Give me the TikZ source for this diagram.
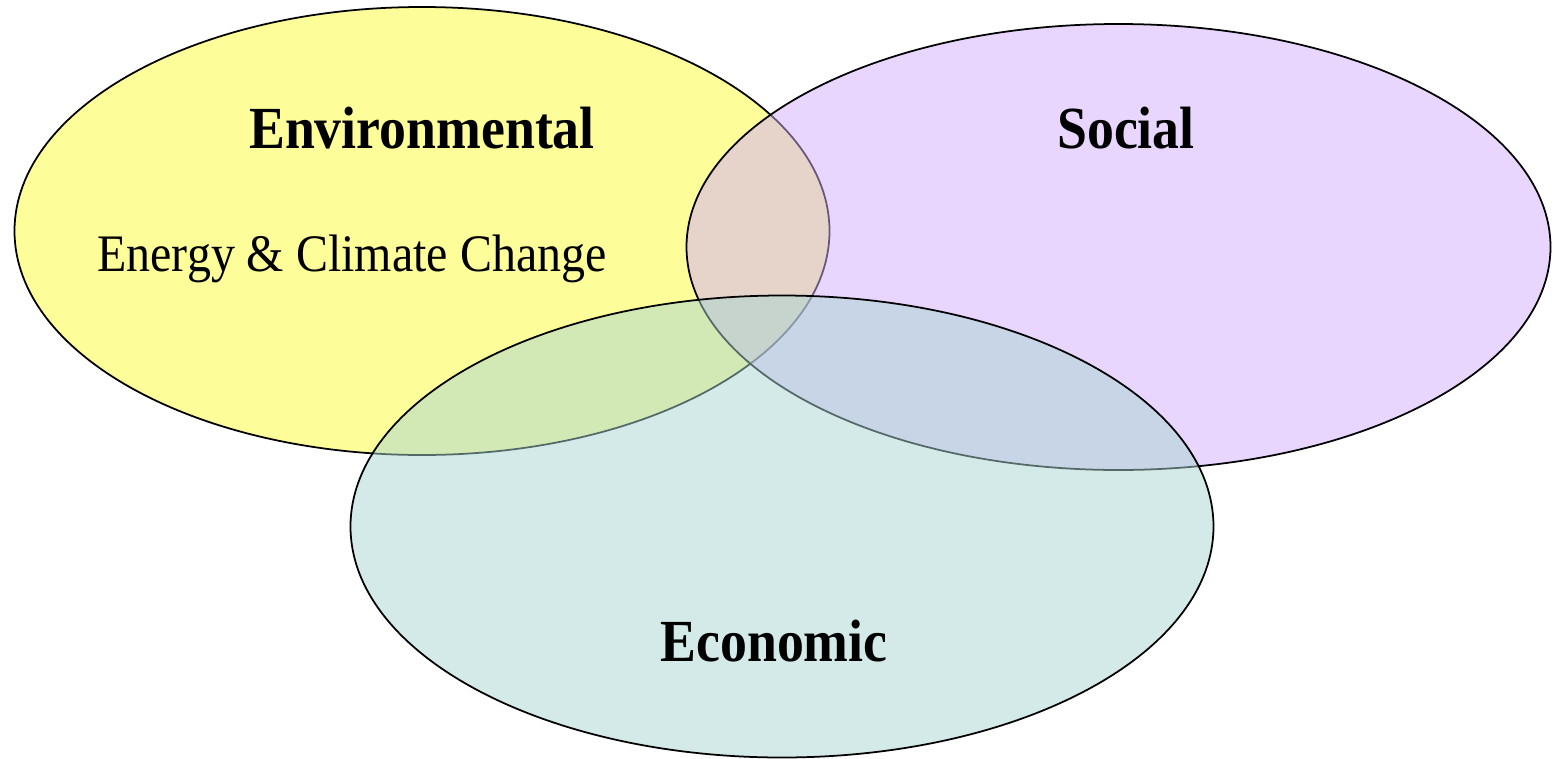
\documentclass[tikz,border=0pt]{standalone}
\usepackage{fontspec}
\setmainfont{Liberation Serif}
\usepackage{tikz}
\definecolor{envfill}{HTML}{FDFD99}
\definecolor{socfill}{HTML}{D1ADFD}
\definecolor{ecofill}{HTML}{A9D5D1}
\tikzset{
  pillar/.style={draw=black,line width=1pt},
  heading/.style={font=\fontsize{34}{40}\selectfont\bfseries,xscale=0.9,anchor=base,inner sep=0pt},
  topic/.style={font=\fontsize{30}{36}\selectfont,xscale=0.91,anchor=base,inner sep=0pt}
}

\begin{document}
\begin{tikzpicture}[x=0.02cm,y=-0.02cm]
\useasboundingbox (0,0) rectangle (1556,758);
\filldraw[pillar,fill=envfill] (422,231) ellipse [x radius=407.5,y radius=224];
\filldraw[pillar,fill=socfill,fill opacity=0.5] (1118.5,247) ellipse [x radius=432,y radius=223];
\filldraw[pillar,fill=ecofill,fill opacity=0.5] (782,526.5) ellipse [x radius=431.5,y radius=231];
\node[heading] (env) at (422,148) {Environmental};
\node[heading] (soc) at (1126,148) {Social};
\node[heading] (eco) at (774,661) {Economic};
\node[topic] (energy) at (352,271) {Energy \& Climate Change};
\end{tikzpicture}
\end{document}
